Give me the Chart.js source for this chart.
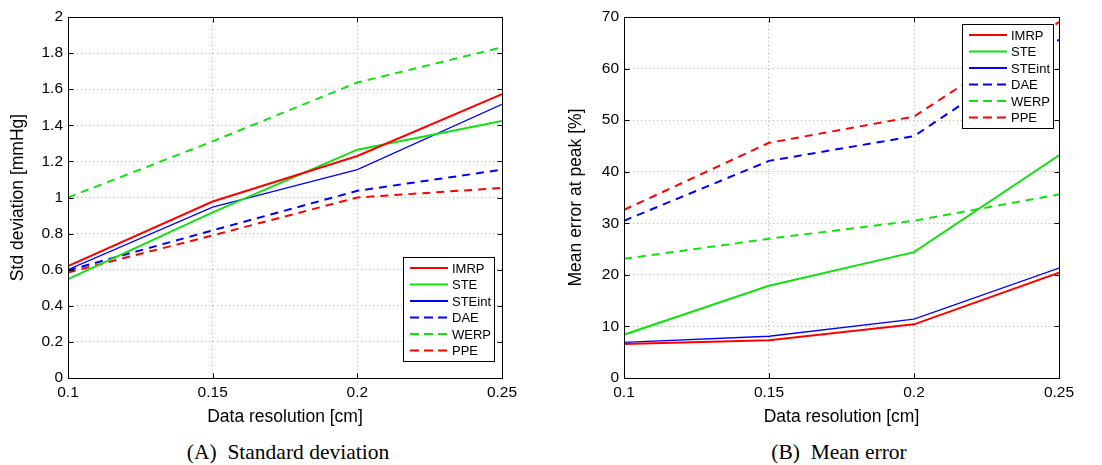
<!DOCTYPE html>
<html>
<head>
<meta charset="utf-8">
<script src="https://cdn.jsdelivr.net/npm/chart.js@4"></script>
<style>
  body { margin: 0; background: #fff; width: 1102px; height: 465px; position: relative; overflow: hidden; }
  .panel { position: absolute; top: 0; width: 551px; height: 465px; }
  .panel canvas { position: absolute; left: 0; top: 0; }
  .cap { position: absolute; left: 0; top: 440px; width: 576px; text-align: center;
         font: 21.5px "Liberation Serif", "DejaVu Serif", serif; color: #000; }
</style>
</head>
<body>
<div class="panel" style="left:0">
  <canvas id="stdChart" width="551" height="430"></canvas>
  <div class="cap">(A)&nbsp; Standard deviation</div>
</div>
<div class="panel" style="left:551px">
  <canvas id="errChart" width="551" height="430"></canvas>
  <div class="cap">(B)&nbsp; Mean error</div>
</div>
<script>
// x values (data resolution, cm) and their tick labels
const resolutions = [0.1, 0.15, 0.2, 0.25];
const xTickLabels = ['0.1', '0.15', '0.2', '0.25'];

const seriesNames = ['IMRP', 'STE', 'STEint', 'DAE', 'WERP', 'PPE'];

// (A) standard deviation [mmHg]
const stdIMRP   = [0.62, 0.978, 1.23, 1.572];
const stdSTE    = [0.548, 0.918, 1.265, 1.424];
const stdSTEint = [0.60, 0.947, 1.154, 1.516];
const stdDAE    = [0.596, 0.818, 1.037, 1.154];
const stdWERP   = [1.0, 1.311, 1.637, 1.832];
const stdPPE    = [0.585, 0.79, 1.0, 1.053];

// (B) mean error at peak [%]
const errIMRP   = [6.6, 7.3, 10.4, 20.4];
const errSTE    = [8.4, 17.9, 24.4, 43.2];
const errSTEint = [6.9, 8.1, 11.4, 21.3];
const errDAE    = [30.5, 42.1, 46.9, 65.6];
const errWERP   = [23.1, 27.0, 30.5, 35.6];
const errPPE    = [32.6, 45.6, 50.7, 69.0];

const RED = '#ff0000', GREEN = '#13e013', BLUE = '#0000ff';
const styles = [
  { color: RED,   width: 2,   dash: [] },
  { color: GREEN, width: 2,   dash: [] },
  { color: BLUE,  width: 1.3, dash: [] },
  { color: BLUE,  width: 2,   dash: [8, 6] },
  { color: GREEN, width: 2,   dash: [8, 6] },
  { color: RED,   width: 2,   dash: [8, 6] }
];

const FONT = '"Liberation Sans", Arial, sans-serif';

function makeDatasets(seriesList) {
  return seriesList.map((vals, i) => ({
    label: seriesNames[i],
    data: resolutions.map((x, j) => ({ x: x, y: vals[j] })),
    borderColor: styles[i].color,
    borderWidth: styles[i].width,
    borderDash: styles[i].dash,
    pointRadius: 0,
    tension: 0,
    fill: false
  }));
}

// matlab-like box round the axes (with inward ticks) plus a boxed legend inside the plot
const boxLegend = {
  id: 'boxLegend',
  afterDatasetsDraw(chart, args, opts) {
    const ctx = chart.ctx, a = chart.chartArea;
    const L = Math.round(a.left) + 0.5, T = Math.round(a.top) + 0.5;
    const R = Math.round(a.right) + 0.5, B = Math.round(a.bottom) + 0.5;
    ctx.save();
    ctx.strokeStyle = '#000';
    ctx.lineWidth = 1;
    ctx.setLineDash([]);
    ctx.strokeRect(L, T, R - L, B - T);

    const tk = 5;
    ctx.beginPath();
    chart.scales.x.ticks.forEach(t => {
      const px = Math.round(chart.scales.x.getPixelForValue(t.value)) + 0.5;
      ctx.moveTo(px, B); ctx.lineTo(px, B - tk);
      ctx.moveTo(px, T); ctx.lineTo(px, T + tk);
    });
    chart.scales.y.ticks.forEach(t => {
      const py = Math.round(chart.scales.y.getPixelForValue(t.value)) + 0.5;
      ctx.moveTo(L, py); ctx.lineTo(L + tk, py);
      ctx.moveTo(R, py); ctx.lineTo(R - tk, py);
    });
    ctx.stroke();

    const w = 91, h = 104, rowH = 16.5;
    const x0 = a.right - opts.right - w;
    const y0 = opts.top != null ? a.top + opts.top : a.bottom - opts.bottom - h;
    ctx.fillStyle = '#fff';
    ctx.fillRect(x0, y0, w, h);
    ctx.strokeRect(Math.round(x0) + 0.5, Math.round(y0) + 0.5, w, h);
    ctx.font = '13px ' + FONT;
    ctx.textBaseline = 'middle';
    chart.data.datasets.forEach((ds, i) => {
      const y = y0 + 11 + i * rowH;
      ctx.beginPath();
      ctx.strokeStyle = ds.borderColor;
      ctx.lineWidth = 2;
      ctx.setLineDash(ds.borderDash.length ? [9, 5] : []);
      ctx.moveTo(x0 + 7, y);
      ctx.lineTo(x0 + 45, y);
      ctx.stroke();
      ctx.fillStyle = '#000';
      ctx.fillText(ds.label, x0 + 49, y + 1);
    });
    ctx.restore();
  }
};

function makeChart(id, seriesList, yMax, yStep, yTitle, yWidth, rightPad, legendPos, yTitlePad) {
  return new Chart(document.getElementById(id), {
    type: 'line',
    data: { datasets: makeDatasets(seriesList) },
    plugins: [boxLegend],
    options: {
      responsive: false,
      animation: false,
      devicePixelRatio: 1,
      layout: { padding: { left: 0, top: 17, right: rightPad, bottom: 0 } },
      plugins: {
        legend: { display: false },
        tooltip: { enabled: false },
        boxLegend: legendPos
      },
      scales: {
        x: {
          type: 'linear',
          min: 0.1,
          max: 0.25,
          afterBuildTicks: s => { s.ticks = resolutions.map(v => ({ value: v })); },
          afterFit: s => { s.height = 52; },
          ticks: {
            color: '#000',
            font: { family: FONT, size: 15.5 },
            padding: 5,
            maxRotation: 0,
            callback: (v, i) => xTickLabels[i]
          },
          grid: { color: '#b0b0b0', lineWidth: 1, drawTicks: false },
          border: { color: '#000', dash: [1, 3] },
          title: {
            display: true,
            text: 'Data resolution [cm]',
            color: '#000',
            font: { family: FONT, size: 17.5 },
            padding: { top: 0, bottom: 2.5 }
          }
        },
        y: {
          min: 0,
          max: yMax,
          afterFit: s => { s.width = yWidth; },
          ticks: {
            stepSize: yStep,
            color: '#000',
            font: { family: FONT, size: 15.5 },
            padding: 5,
            callback: v => String(+v.toFixed(1))
          },
          grid: { color: '#b0b0b0', lineWidth: 1, drawTicks: false },
          border: { color: '#000', dash: [1, 3] },
          title: {
            display: true,
            text: yTitle,
            color: '#000',
            font: { family: FONT, size: 17.5 },
            padding: { top: yTitlePad, bottom: 0 }
          }
        }
      }
    }
  });
}

makeChart('stdChart',
  [stdIMRP, stdSTE, stdSTEint, stdDAE, stdWERP, stdPPE],
  2, 0.2, 'Std deviation [mmHg]', 68, 49, { right: 8, bottom: 17 }, 7.5);

makeChart('errChart',
  [errIMRP, errSTE, errSTEint, errDAE, errWERP, errPPE],
  70, 10, 'Mean error at peak [%]', 73, 43, { right: 6, top: 7 }, 14.5);
</script>
</body>
</html>
